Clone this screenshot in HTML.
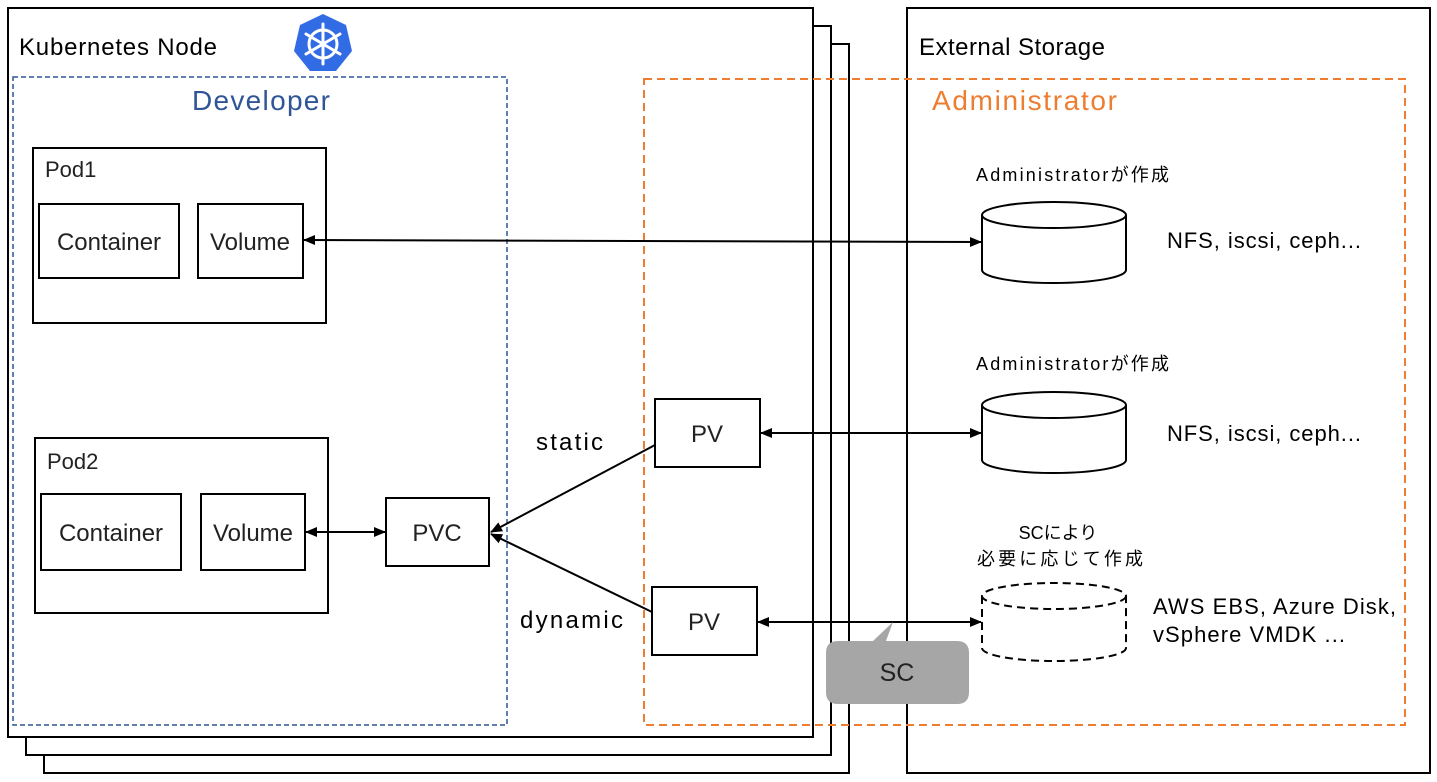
<!DOCTYPE html>
<html><head><meta charset="utf-8"><style>
html,body{margin:0;padding:0;background:#fff;}
svg{display:block;}
text{font-family:"Liberation Sans","Noto Sans CJK JP",sans-serif;}
</style></head><body>
<svg width="1437" height="782" viewBox="0 0 1437 782" xmlns="http://www.w3.org/2000/svg">
<defs>
<marker id="a" markerWidth="12" markerHeight="12" refX="11" refY="6" orient="auto-start-reverse" markerUnits="userSpaceOnUse">
<path d="M0,1 L12,6 L0,11 Z" fill="#000"/></marker>
</defs>
<g fill="#fff" stroke="#000" stroke-width="2">
<rect x="44" y="44" width="805" height="729"/>
<rect x="26" y="26" width="805" height="729"/>
<rect x="8" y="8" width="805" height="729"/>
<rect x="907" y="8" width="523" height="765"/>
</g>
<text x="19" y="55" font-size="24" fill="#000" textLength="198">Kubernetes Node</text>
<text x="919" y="55" font-size="24" fill="#000" textLength="186">External Storage</text>
<!-- k8s logo -->
<g transform="translate(323,44)">
<polygon points="0,-30 23,-19 29,7 13,27 -13,27 -29,7 -23,-19" fill="#326ce5"/>
<circle r="14" fill="none" stroke="#fff" stroke-width="3"/>
<circle r="3" fill="#fff"/>
<g stroke="#fff" stroke-width="3" stroke-linecap="round">
<line x1="0" y1="-20" x2="0" y2="20"/>
<line x1="-17" y1="-10" x2="17" y2="10"/>
<line x1="-17" y1="10" x2="17" y2="-10"/>
</g>
</g>
<rect x="13" y="77" width="494" height="648" fill="none" stroke="#2f5597" stroke-width="1.5" stroke-dasharray="5,3"/>
<rect x="644" y="79" width="761" height="646" fill="none" stroke="#ed7d31" stroke-width="2" stroke-dasharray="8,5"/>
<text x="192" y="110" font-size="28" fill="#2f5597" textLength="138">Developer</text>
<text x="932" y="110" font-size="28" fill="#ed7d31" textLength="185">Administrator</text>
<g fill="#fff" stroke="#000" stroke-width="2">
<rect x="33" y="148" width="293" height="175"/>
<rect x="39" y="204" width="140" height="74"/>
<rect x="198" y="204" width="105" height="74"/>
<rect x="35" y="438" width="293" height="175"/>
<rect x="41" y="494" width="140" height="76"/>
<rect x="201" y="494" width="104" height="76"/>
<rect x="386" y="498" width="103" height="68"/>
<rect x="655" y="399" width="105" height="68"/>
<rect x="652" y="587" width="105" height="68"/>
</g>
<g font-size="24" fill="#222" text-anchor="middle">
<text x="109" y="250">Container</text>
<text x="250" y="250">Volume</text>
<text x="111" y="541">Container</text>
<text x="253" y="541">Volume</text>
<text x="437" y="541">PVC</text>
<text x="707" y="442">PV</text>
<text x="704" y="630">PV</text>
</g>
<text x="45" y="177" font-size="22" fill="#222">Pod1</text>
<text x="47" y="469" font-size="22" fill="#222">Pod2</text>
<text x="536" y="450" font-size="24" fill="#000" textLength="67">static</text>
<text x="520" y="628" font-size="24" fill="#000" textLength="103">dynamic</text>
<!-- cylinders -->
<g fill="#fff" stroke="#000" stroke-width="2">
<path d="M982,215 V270 A72,13 0 0 0 1126,270 V215"/>
<ellipse cx="1054" cy="215" rx="72" ry="13"/>
<path d="M982,405 V460 A72,13 0 0 0 1126,460 V405"/>
<ellipse cx="1054" cy="405" rx="72" ry="13"/>
<g stroke-dasharray="8,5">
<path d="M982,596 V648 A72,13 0 0 0 1126,648 V596"/>
<ellipse cx="1054" cy="596" rx="72" ry="13"/>
</g>
</g>
<g font-size="18" fill="#000">
<text x="976" y="181" textLength="193">Administratorが作成</text>
<text x="976" y="370" textLength="193">Administratorが作成</text>
<text x="1058" y="539" text-anchor="middle">SCにより</text>
<text x="1060" y="565" text-anchor="middle" textLength="166">必要に応じて作成</text>
</g>
<g font-size="22" fill="#000">
<text x="1167" y="248" textLength="194">NFS, iscsi, ceph...</text>
<text x="1167" y="441" textLength="194">NFS, iscsi, ceph...</text>
<text x="1153" y="614" textLength="243">AWS EBS, Azure Disk,</text>
<text x="1153" y="642" textLength="192">vSphere VMDK ...</text>
</g>
<!-- connectors -->
<g stroke="#000" stroke-width="2" fill="none">
<line x1="304" y1="240" x2="981" y2="242" marker-start="url(#a)" marker-end="url(#a)"/>
<line x1="306" y1="532" x2="385" y2="532" marker-start="url(#a)" marker-end="url(#a)"/>
<line x1="761" y1="433" x2="981" y2="433" marker-start="url(#a)" marker-end="url(#a)"/>
<line x1="758" y1="622" x2="981" y2="622" marker-start="url(#a)" marker-end="url(#a)"/>
<line x1="655" y1="445" x2="491" y2="532" marker-end="url(#a)"/>
<line x1="652" y1="612" x2="491" y2="534" marker-end="url(#a)"/>
</g>
<!-- SC callout -->
<path d="M840,641 L873,641 L893,622 L886,641 L957,641 Q969,641 969,653 L969,692 Q969,704 957,704 L838,704 Q826,704 826,692 L826,653 Q826,641 838,641 Z" fill="#a6a6a6"/>
<text x="897" y="681" font-size="25" fill="#222" text-anchor="middle">SC</text>
</svg>
</body></html>
